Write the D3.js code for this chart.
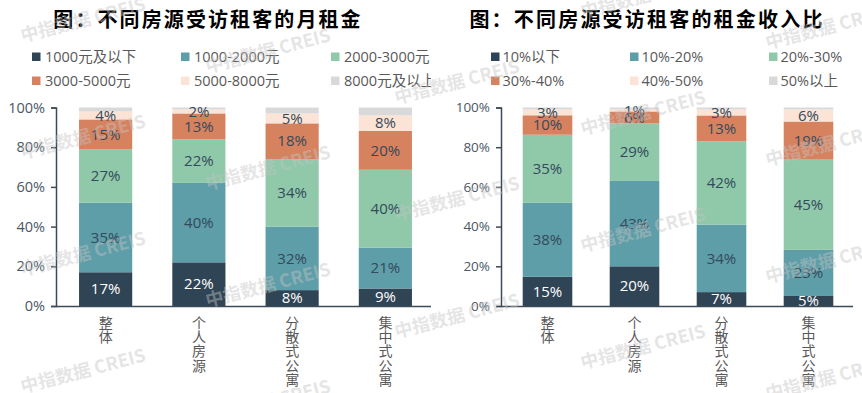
<!DOCTYPE html>
<html>
<head>
<meta charset="utf-8">
<script src="https://cdn.jsdelivr.net/npm/d3@7"></script>
<style>
  body { margin: 0; background: #fff; }
  svg { display: block; font-family: "Open Sans", "Noto Sans CJK SC", sans-serif; }
</style>
</head>
<body>
<svg id="svg"></svg>
<script>
const width = 862;
const height = 393;

// categories on the x axis (shared by both charts)
const categories = ["整体", "个人房源", "分散式公寓", "集中式公寓"];

// left chart: monthly rent
const rentTitle = "图：不同房源受访租客的月租金";
const rentSeries = ["1000元及以下", "1000-2000元", "2000-3000元", "3000-5000元", "5000-8000元", "8000元及以上"];
const rentValues = [
  [17, 22, 8, 9],
  [35, 40, 32, 21],
  [27, 22, 34, 40],
  [15, 13, 18, 20],
  [4, 2, 5, 8],
  [2, 1, 3, 4]
];

// right chart: rent to income ratio
const ratioTitle = "图：不同房源受访租客的租金收入比";
const ratioSeries = ["10%以下", "10%-20%", "20%-30%", "30%-40%", "40%-50%", "50%以上"];
const ratioValues = [
  [15, 20, 7, 5],
  [38, 43, 34, 23],
  [35, 29, 42, 45],
  [10, 6, 13, 19],
  [3, 1, 3, 6],
  [1, 1, 1, 1]
];

const yTicks = [0, 0.2, 0.4, 0.6, 0.8, 1];

const colors = ["#2f4455", "#5e9ea8", "#8fc9aa", "#d7825f", "#fbe3d5", "#d9d9d9"];
const axisColor = "#3c4a58";
const tickTextColor = "#4a5766";

const svg = d3.select("#svg")
  .attr("width", width)
  .attr("height", height);

function drawPanel(cfg) {
  const g = svg.append("g");
  if (cfg.clip) {
    svg.append("clipPath").attr("id", cfg.clip.id)
      .append("rect")
      .attr("x", cfg.clip.x).attr("y", 0)
      .attr("width", cfg.clip.w).attr("height", height);
    g.attr("clip-path", `url(#${cfg.clip.id})`);
  }

  // title
  g.append("text")
    .attr("x", cfg.titleX)
    .attr("y", 27)
    .attr("text-anchor", "middle")
    .attr("font-family", "Noto Sans CJK SC")
    .attr("font-weight", 700)
    .attr("font-size", 20)
    .attr("letter-spacing", cfg.titleSpacing)
    .attr("fill", "#000")
    .text(cfg.title);

  // legend, 3 columns x 2 rows
  const legend = g.append("g");
  cfg.series.forEach((s, i) => {
    const col = i % 3, row = Math.floor(i / 3);
    const lx = cfg.legendX[col], ly = 57 + row * 24;
    legend.append("rect")
      .attr("x", lx).attr("y", ly - 4.5)
      .attr("width", 8.5).attr("height", 8.5)
      .attr("fill", colors[i]);
    legend.append("text")
      .attr("x", lx + cfg.legendGap)
      .attr("y", ly)
      .attr("dy", "0.35em")
      .attr("font-size", 14.5)
      .attr("fill", "#595959")
      .text(s);
  });

  // stacked data
  const rows = categories.map((c, j) => {
    const r = { cat: c };
    cfg.series.forEach((s, i) => { r[s] = cfg.values[i][j]; });
    return r;
  });
  const stacked = d3.stack()
    .keys(cfg.series)
    .offset(d3.stackOffsetExpand)(rows);

  const x = d3.scaleBand()
    .domain(categories)
    .range(cfg.xRange)
    .paddingInner(0.43)
    .paddingOuter(0.215);
  const y = d3.scaleLinear().domain([0, 1]).range([306, 107.5]);

  const layer = g.append("g")
    .selectAll("g")
    .data(stacked)
    .join("g")
    .attr("fill", (d, i) => colors[i]);

  layer.selectAll("rect")
    .data(d => d)
    .join("rect")
    .attr("x", d => x(d.data.cat))
    .attr("y", d => y(d[1]))
    .attr("width", x.bandwidth())
    .attr("height", d => y(d[0]) - y(d[1]));

  // value labels (last series is not labelled)
  stacked.forEach((ser, i) => {
    if (i === stacked.length - 1) return;
    g.append("g")
      .selectAll("text")
      .data(ser)
      .join("text")
      .attr("x", d => x(d.data.cat) + x.bandwidth() / 2)
      .attr("y", d => (y(d[0]) + y(d[1])) / 2)
      .attr("dy", "0.35em")
      .attr("text-anchor", "middle")
      .attr("font-size", 15)
      .attr("fill", i === 0 ? "#fff" : "#34495a")
      .text(d => d.data[ser.key] + "%");
  });

  // y axis
  const yAxis = g.append("g")
    .attr("transform", `translate(${cfg.axisX},0)`)
    .call(d3.axisLeft(y).tickValues(yTicks).tickFormat(d3.format(".0%")).tickSize(5).tickPadding(6));
  yAxis.select(".domain").attr("stroke", axisColor).attr("stroke-width", 1.5);
  yAxis.selectAll(".tick line").attr("stroke", axisColor).attr("stroke-width", 1.5);
  yAxis.selectAll(".tick text")
    .attr("font-size", cfg.tickSize)
    .attr("font-family", "Open Sans")
    .attr("fill", tickTextColor);

  // x axis line
  g.append("line")
    .attr("x1", cfg.axisX).attr("x2", cfg.xAxisEnd)
    .attr("y1", 306.5).attr("y2", 306.5)
    .attr("stroke", axisColor)
    .attr("stroke-width", 1.5);

  // vertical category labels
  categories.forEach(c => {
    const cx = x(c) + x.bandwidth() / 2;
    Array.from(c).forEach((ch, k) => {
      g.append("text")
        .attr("x", cx)
        .attr("y", 323 + k * 14.2)
        .attr("text-anchor", "middle")
        .attr("dy", "0.35em")
        .attr("font-size", 14)
        .attr("font-family", "Noto Sans CJK SC")
        .attr("fill", "#595959")
        .text(ch);
    });
  });
}

drawPanel({
  title: rentTitle,
  titleX: 208,
  titleSpacing: 2.1,
  series: rentSeries,
  values: rentValues,
  legendX: [32, 181, 331],
  legendGap: 13,
  xRange: [59, 432],
  axisX: 56,
  xAxisEnd: 432,
  tickSize: 14.5,
  clip: { id: "clipLeft", x: 0, w: 431 }
});

drawPanel({
  title: ratioTitle,
  titleX: 647,
  titleSpacing: 2.2,
  series: ratioSeries,
  values: ratioValues,
  legendX: [491, 630, 769],
  legendGap: 11.5,
  xRange: [504, 852],
  axisX: 501,
  xAxisEnd: 853,
  tickSize: 13.5,
  clip: null
});

// watermark "中指数据 CREIS", tiled across the image
const wmCols = [83, 268, 457, 643, 828];
const wmRows = [-97, 20, 137, 254, 371, 488];
const wm = svg.append("g").attr("pointer-events", "none");
wmCols.forEach((cx, ci) => {
  wmRows.forEach(ry => {
    const cy = ry + ci * 31;
    if (cy < -20 || cy > 415) return;
    wm.append("text")
      .attr("transform", `translate(${cx},${cy}) rotate(-14.5)`)
      .attr("text-anchor", "middle")
      .attr("dy", "0.35em")
      .attr("font-family", "Noto Sans CJK SC")
      .attr("font-weight", 700)
      .attr("font-size", 18)
      .attr("fill", "#c4c4c4")
      .attr("fill-opacity", 0.45)
      .text("中指数据 CREIS");
  });
});
</script>
</body>
</html>
